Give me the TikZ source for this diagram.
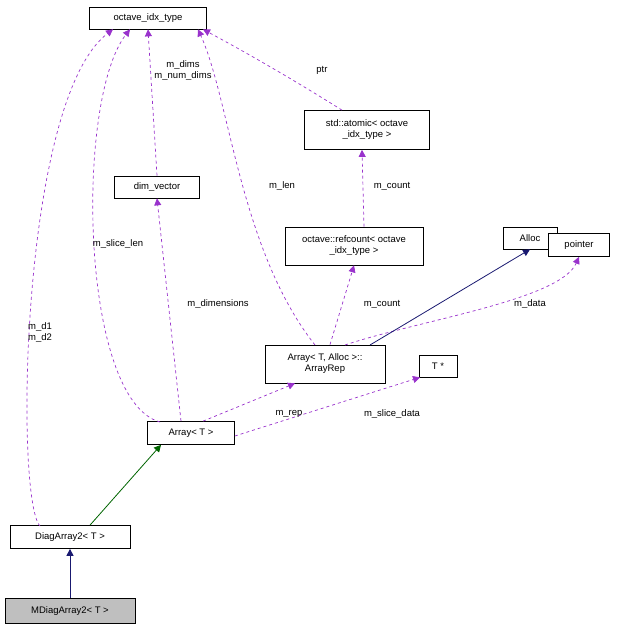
\documentclass[tikz,border=0pt]{standalone}
\usepackage{fontspec}
\setmainfont{Liberation Sans}
\usetikzlibrary{arrows.meta}
\begin{document}
\begin{tikzpicture}[x=1pt,y=-1pt,
  box/.style={draw,fill=white,inner sep=2pt,font=\fontsize{9.5}{11}\selectfont,align=center,line width=0.7pt},
  lab/.style={font=\fontsize{9.5}{11}\selectfont,align=center,inner sep=1pt},
  dep/.style={draw={rgb,255:red,153;green,50;blue,204},dashed,line width=0.7pt,-{Triangle[length=7pt,width=7pt,fill={rgb,255:red,153;green,50;blue,204}]}},
  inh/.style={line width=0.8pt,-{Triangle[length=7pt,width=7pt]}}]
\useasboundingbox (0,0) rectangle (616,632);
\definecolor{navy}{RGB}{25,25,112}
\definecolor{dgreen}{RGB}{0,100,0}
\node[box,minimum width=117pt,minimum height=22pt] (oit) at (148,18) {octave\_idx\_type};
\node[box,minimum width=125pt,minimum height=39pt] (atom) at (367,130) {std::atomic< octave\\\_idx\_type >};
\node[box,minimum width=85pt,minimum height=22pt] (dv) at (157,187) {dim\_vector};
\node[box,minimum width=138pt,minimum height=38pt] (rc) at (354,246) {octave::refcount< octave\\\_idx\_type >};
\node[box,minimum width=54pt,minimum height=22pt] (alloc) at (530,238) {Alloc};
\node[box,minimum width=61pt,minimum height=23pt] (ptr) at (579,245) {pointer};
\node[box,minimum width=120pt,minimum height=38pt] (rep) at (325,364) {Array< T, Alloc >::\\ArrayRep};
\node[box,minimum width=38pt,minimum height=22pt] (tp) at (438,366) {T *};
\node[box,minimum width=87pt,minimum height=23pt] (arr) at (191,433) {Array< T >};
\node[box,minimum width=120pt,minimum height=23pt] (da) at (70,537) {DiagArray2< T >};
\node[box,fill={rgb,255:red,191;green,191;blue,191},minimum width=130pt,minimum height=25pt] (mda) at (70,611) {MDiagArray2< T >};
\coordinate (p1) at (40,526);
\coordinate (p2) at (160,422);
\coordinate (p3) at (315,345);
\coordinate (p4) at (345,345);
\coordinate (p5) at (370,345);
% dashed
\draw[dep] (p1) .. controls (15,500) and (20,100) .. ([xshift=-35pt]oit.south);
\draw[dep] (p2) .. controls (80,400) and (75,100) .. ([xshift=-18pt]oit.south);
\draw[dep] (dv.north) -- (oit.south);
\draw[dep] (p3) .. controls (240,250) and (230,100) .. ([xshift=50pt]oit.south);
\draw[dep] ([xshift=-25pt]atom.north) .. controls (310,90) and (260,60) .. ([xshift=55pt]oit.south);
\draw[dep] ([xshift=10pt]rc.north) -- ([xshift=-5pt]atom.south);
\draw[dep] ([xshift=-10pt]arr.north) -- (dv.south);
\draw[dep] ([xshift=5pt]rep.north) -- (rc.south);
\draw[dep] (p4) .. controls (420,320) and (560,300) .. (ptr.south);
\draw[dep] ([xshift=12pt]arr.north) -- ([xshift=-30pt]rep.south);
\draw[dep] ([yshift=-3pt]arr.east) -- ([xshift=-18pt]tp.south);
% solid
\draw[inh,navy] (p5) -- (alloc.south);
\draw[inh,dgreen] ([xshift=20pt]da.north) -- ([xshift=-30pt]arr.south);
\draw[inh,navy] (mda.north) -- (da.south);
% labels
\node[lab] at (40,332) {m\_d1\\m\_d2};
\node[lab] at (118,244) {m\_slice\_len};
\node[lab] at (183,70) {m\_dims\\m\_num\_dims};
\node[lab] at (282,186) {m\_len};
\node[lab] at (322,70) {ptr};
\node[lab] at (392,186) {m\_count};
\node[lab] at (218,304) {m\_dimensions};
\node[lab] at (382,304) {m\_count};
\node[lab] at (530,304) {m\_data};
\node[lab] at (289,414) {m\_rep};
\node[lab] at (392,414) {m\_slice\_data};
\end{tikzpicture}
\end{document}
